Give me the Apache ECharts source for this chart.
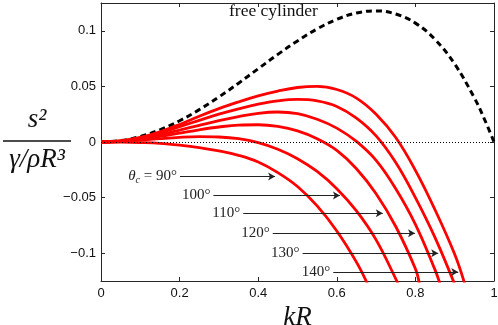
<!DOCTYPE html>
<html>
<head>
<meta charset="utf-8">
<script src="https://cdn.jsdelivr.net/npm/echarts@6/dist/echarts.min.js"></script>
<style>
  html, body { margin: 0; padding: 0; background: #fff; }
  #main { width: 498px; height: 325px; }
</style>
</head>
<body>
<div id="main"></div>
<script>
// kR sample points
var kr = [0, 0.05, 0.1, 0.15, 0.2, 0.25, 0.3, 0.35, 0.4, 0.45, 0.5, 0.55, 0.6, 0.65, 0.7, 0.75, 0.8, 0.85, 0.9, 0.95, 0.975, 1];

// free cylinder (dashed)
var freeCyl = [0, 0.00125, 0.0049, 0.011, 0.0191, 0.0291, 0.0405, 0.0529, 0.0659, 0.0788, 0.0909, 0.1017, 0.1103, 0.116, 0.1179, 0.1151, 0.1069, 0.0922, 0.0701, 0.0397, 0.0211, 0];

// red curves, one per contact angle (last point is just past the bottom edge)
var c140 = [0, 0.001, 0.0042, 0.0092, 0.0158, 0.0232, 0.03, 0.036, 0.0415, 0.0458, 0.049, 0.05, 0.0472, 0.0395, 0.025, 0.004, -0.0255, -0.061, -0.101];
var c140End = [0.925, -0.127];
var c130 = [0, 0.0009, 0.0037, 0.0082, 0.0138, 0.0195, 0.025, 0.0298, 0.034, 0.037, 0.0383, 0.037, 0.032, 0.0215, 0.0055, -0.0185, -0.05, -0.086, -0.128];
var c120 = [0, 0.0008, 0.003, 0.0065, 0.0107, 0.015, 0.0192, 0.0228, 0.0258, 0.027, 0.0255, 0.0205, 0.0125, 0.0005, -0.0165, -0.042, -0.074, -0.115];
var c120End = [0.865, -0.13];
var c110 = [0, 0.0006, 0.0024, 0.005, 0.008, 0.011, 0.0135, 0.0152, 0.0155, 0.014, 0.01, 0.003, -0.0075, -0.024, -0.0465, -0.076, -0.114];
var c110End = [0.81, -0.127];
var c100 = [0, 0.0004, 0.0016, 0.003, 0.0042, 0.0048, 0.0045, 0.003, -0.0005, -0.0065, -0.015, -0.0265, -0.042, -0.062, -0.088, -0.123];
var c100End = [0.76, -0.131];
var c90 = [0, -0.0001, -0.0005, -0.0012, -0.0028, -0.005, -0.008, -0.012, -0.018, -0.0275, -0.04, -0.0575, -0.08, -0.108];
var c90End = [0.68, -0.129];

// arrows: y level, start kR, end kR, label
var arrowY = [-0.031, -0.048, -0.064, -0.082, -0.1, -0.117];
var arrowFrom = [0.201, 0.286, 0.362, 0.437, 0.513, 0.591];
var arrowTo = [0.443, 0.608, 0.717, 0.799, 0.858, 0.909];
var arrowLabels = ['{t|θ}{s|c}{n| = 90°}', '{n|100°}', '{n|110°}', '{n|120°}', '{n|130°}', '{n|140°}'];

// tick labels
var xTicks = [0, 0.2, 0.4, 0.6, 0.8, 1];
var yTicks = [-0.1, -0.05, 0, 0.05, 0.1];
var yTickLabels = ['\u22120.1', '\u22120.05', '0', '0.05', '0.1'];

function pairs(ys, end) {
  var out = ys.map(function (v, i) { return [kr[i], v]; });
  if (end) out.push(end);
  return out;
}

var serif = '"Liberation Serif", "DejaVu Serif", serif';
var sans = '"Liberation Sans", Arial, sans-serif';

var redCurves = [pairs(c140, c140End), pairs(c130), pairs(c120, c120End), pairs(c110, c110End), pairs(c100, c100End), pairs(c90, c90End)];

var series = [];

// dotted zero line + free cylinder
series.push({
  type: 'line',
  data: pairs(freeCyl),
  smooth: 0.4,
  symbol: 'none',
  lineStyle: { color: '#000', width: 3, type: [6, 4] },
  z: 3,
  markLine: {
    silent: true,
    symbol: 'none',
    label: { show: false },
    lineStyle: { color: '#000', width: 1, type: [1, 2] },
    data: [{ yAxis: 0 }]
  }
});

redCurves.forEach(function (d) {
  series.push({
    type: 'line',
    data: d,
    smooth: 0.4,
    symbol: 'none',
    lineStyle: { color: '#ff0000', width: 2.8 },
    z: 4
  });
});

// arrows with labels
series.push({
  type: 'line',
  data: [],
  z: 5,
  markLine: {
    silent: true,
    symbol: ['none', 'arrow'],
    symbolSize: [6, 7],
    lineStyle: { color: '#222', width: 1.1, type: 'solid' },
    data: arrowY.map(function (y, i) {
      return [
        {
          coord: [arrowFrom[i], y],
          label: {
            show: true,
            position: 'start',
            distance: 3,
            formatter: arrowLabels[i],
            rich: {
              t: { fontFamily: serif, fontStyle: 'italic', fontSize: 15, color: '#222' },
              s: { fontFamily: serif, fontStyle: 'italic', fontSize: 10, color: '#222', padding: [8, 0, 0, 0] },
              n: { fontFamily: serif, fontSize: 15, color: '#222' }
            }
          }
        },
        { coord: [arrowTo[i], y] }
      ];
    })
  }
});

var axisLineStyle = { color: '#262626', width: 1 };

var option = {
  animation: false,
  grid: { left: 101, right: 4, top: 3, bottom: 44, outerBoundsMode: 'none', containLabel: false },
  xAxis: [
    {
      type: 'value',
      min: 0,
      max: 1,
      interval: 0.2,
      position: 'bottom',
      axisLine: { onZero: false, lineStyle: axisLineStyle },
      axisTick: { inside: true, length: 4, lineStyle: axisLineStyle },
      axisLabel: { color: '#111', fontFamily: sans, fontSize: 13, margin: 6 },
      splitLine: { show: false },
      name: 'kR',
      nameLocation: 'middle',
      nameGap: 21,
      nameTextStyle: { fontFamily: serif, fontStyle: 'italic', fontSize: 27, color: '#111' }
    },
    {
      type: 'value',
      min: 0,
      max: 1,
      interval: 0.2,
      position: 'top',
      axisLine: { onZero: false, lineStyle: axisLineStyle },
      axisTick: { inside: true, length: 4, lineStyle: axisLineStyle },
      axisLabel: { show: false },
      splitLine: { show: false }
    }
  ],
  yAxis: [
    {
      type: 'value',
      min: -0.125,
      max: 0.125,
      position: 'left',
      axisLine: { onZero: false, lineStyle: axisLineStyle },
      axisTick: { inside: true, length: 4, lineStyle: axisLineStyle, customValues: yTicks },
      axisLabel: {
        color: '#111', fontFamily: sans, fontSize: 13, margin: 5,
        customValues: yTicks,
        formatter: function (v) {
          for (var i = 0; i < yTicks.length; i++) {
            if (Math.abs(yTicks[i] - v) < 1e-9) return yTickLabels[i];
          }
          return '';
        }
      },
      splitLine: { show: false }
    },
    {
      type: 'value',
      min: -0.125,
      max: 0.125,
      position: 'right',
      axisLine: { onZero: false, lineStyle: axisLineStyle },
      axisTick: { inside: true, length: 4, lineStyle: axisLineStyle, customValues: yTicks },
      axisLabel: { show: false },
      splitLine: { show: false }
    }
  ],
  graphic: [
    {
      type: 'text',
      left: 229, top: 2,
      style: { text: 'free cylinder', font: '17.5px ' + serif, fill: '#111' }
    },
    {
      type: 'text',
      x: 37, y: 133,
      style: { text: 's²', font: 'italic 27px ' + serif, fill: '#111', textAlign: 'center', textVerticalAlign: 'bottom' }
    },
    {
      type: 'line',
      shape: { x1: 3, y1: 141, x2: 71, y2: 141 },
      style: { stroke: '#111', lineWidth: 1.5 }
    },
    {
      type: 'text',
      x: 37, y: 146,
      style: { text: 'γ/ρR³', font: 'italic 27px ' + serif, fill: '#111', textAlign: 'center', textVerticalAlign: 'top' }
    }
  ],
  series: series
};

var chart = echarts.init(document.getElementById('main'));
chart.setOption(option);
</script>
</body>
</html>
